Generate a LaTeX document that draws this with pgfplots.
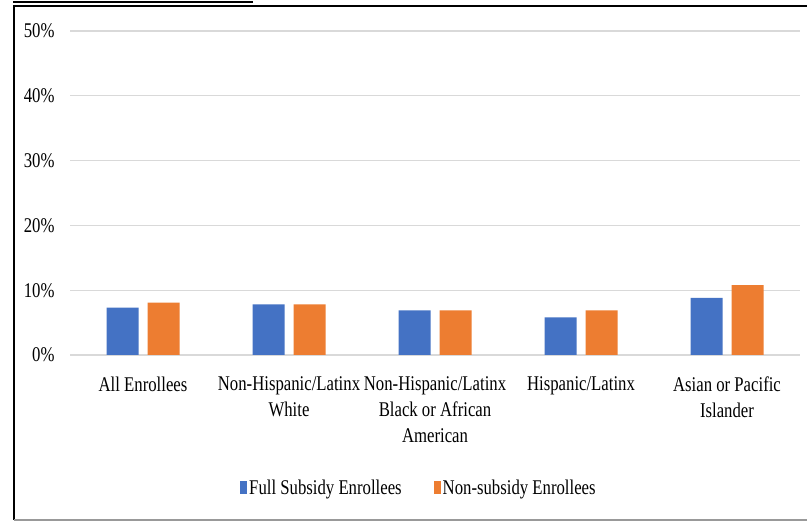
\documentclass[border=0pt]{standalone}
\usepackage{fontspec}
\setmainfont[FakeStretch=0.8]{Liberation Serif}
\usepackage{pgfplots}
\pgfplotsset{compat=1.18}
\definecolor{cblue}{HTML}{4472C4}
\definecolor{corange}{HTML}{ED7D31}
\definecolor{cgrid}{HTML}{D9D9D9}
\begin{document}
\begin{tikzpicture}[x=1bp,y=1bp]
\path[use as bounding box] (0,0) rectangle (807,522);
\fill[white] (0,0) rectangle (807,522);
\draw[line width=2bp] (14,2) -- (14,516);
\draw[line width=2bp] (13,516) -- (807,516);
\draw[line width=2bp] (13,520) -- (253,520);
\draw[line width=1.5bp, black!40] (14,2) -- (807,2);
\begin{axis}[
  at={(70bp,167bp)}, anchor=south west,
  scale only axis, width=730bp, height=324bp,
  xmin=-0.5, xmax=4.5, ymin=0, ymax=50,
  ybar=9bp, bar width=32bp,
  axis line style={draw=none},
  major tick style={draw=none},
  ymajorgrids, major grid style={cgrid, line width=1.3bp},
  ytick={0,10,20,30,40,50},
  yticklabel={\pgfmathprintnumber{\tick}\%},
  /pgf/number format/assume math mode=true,
  xtick={0,1,2,3,4},
  xticklabels={All Enrollees, {Non-Hispanic/Latinx\\White}, {Non-Hispanic/Latinx\\Black or African\\American}, Hispanic/Latinx, {Asian or Pacific\\Islander}},
  xticklabel style={align=center, anchor=north, yshift=-14bp},
  yticklabel style={anchor=east, xshift=-12bp},
  tick label style={font=\fontsize{21}{26}\selectfont},
  legend style={at={(0.478,-0.41)}, anchor=center, draw=none, fill=none,
    legend columns=2, font=\fontsize{21}{26}\selectfont,
    /tikz/every even column/.append style={column sep=30bp}},
  legend image code/.code={\fill (0bp,-6.5bp) rectangle (7bp,6.5bp);},
]
\addplot[fill=cblue, draw=none] coordinates {(0,7.3) (1,7.8) (2,6.9) (3,5.8) (4,8.8)};
\addplot[fill=corange, draw=none] coordinates {(0,8.1) (1,7.8) (2,6.9) (3,6.9) (4,10.8)};
\legend{Full Subsidy Enrollees, Non-subsidy Enrollees}
\end{axis}
\end{tikzpicture}
\end{document}
